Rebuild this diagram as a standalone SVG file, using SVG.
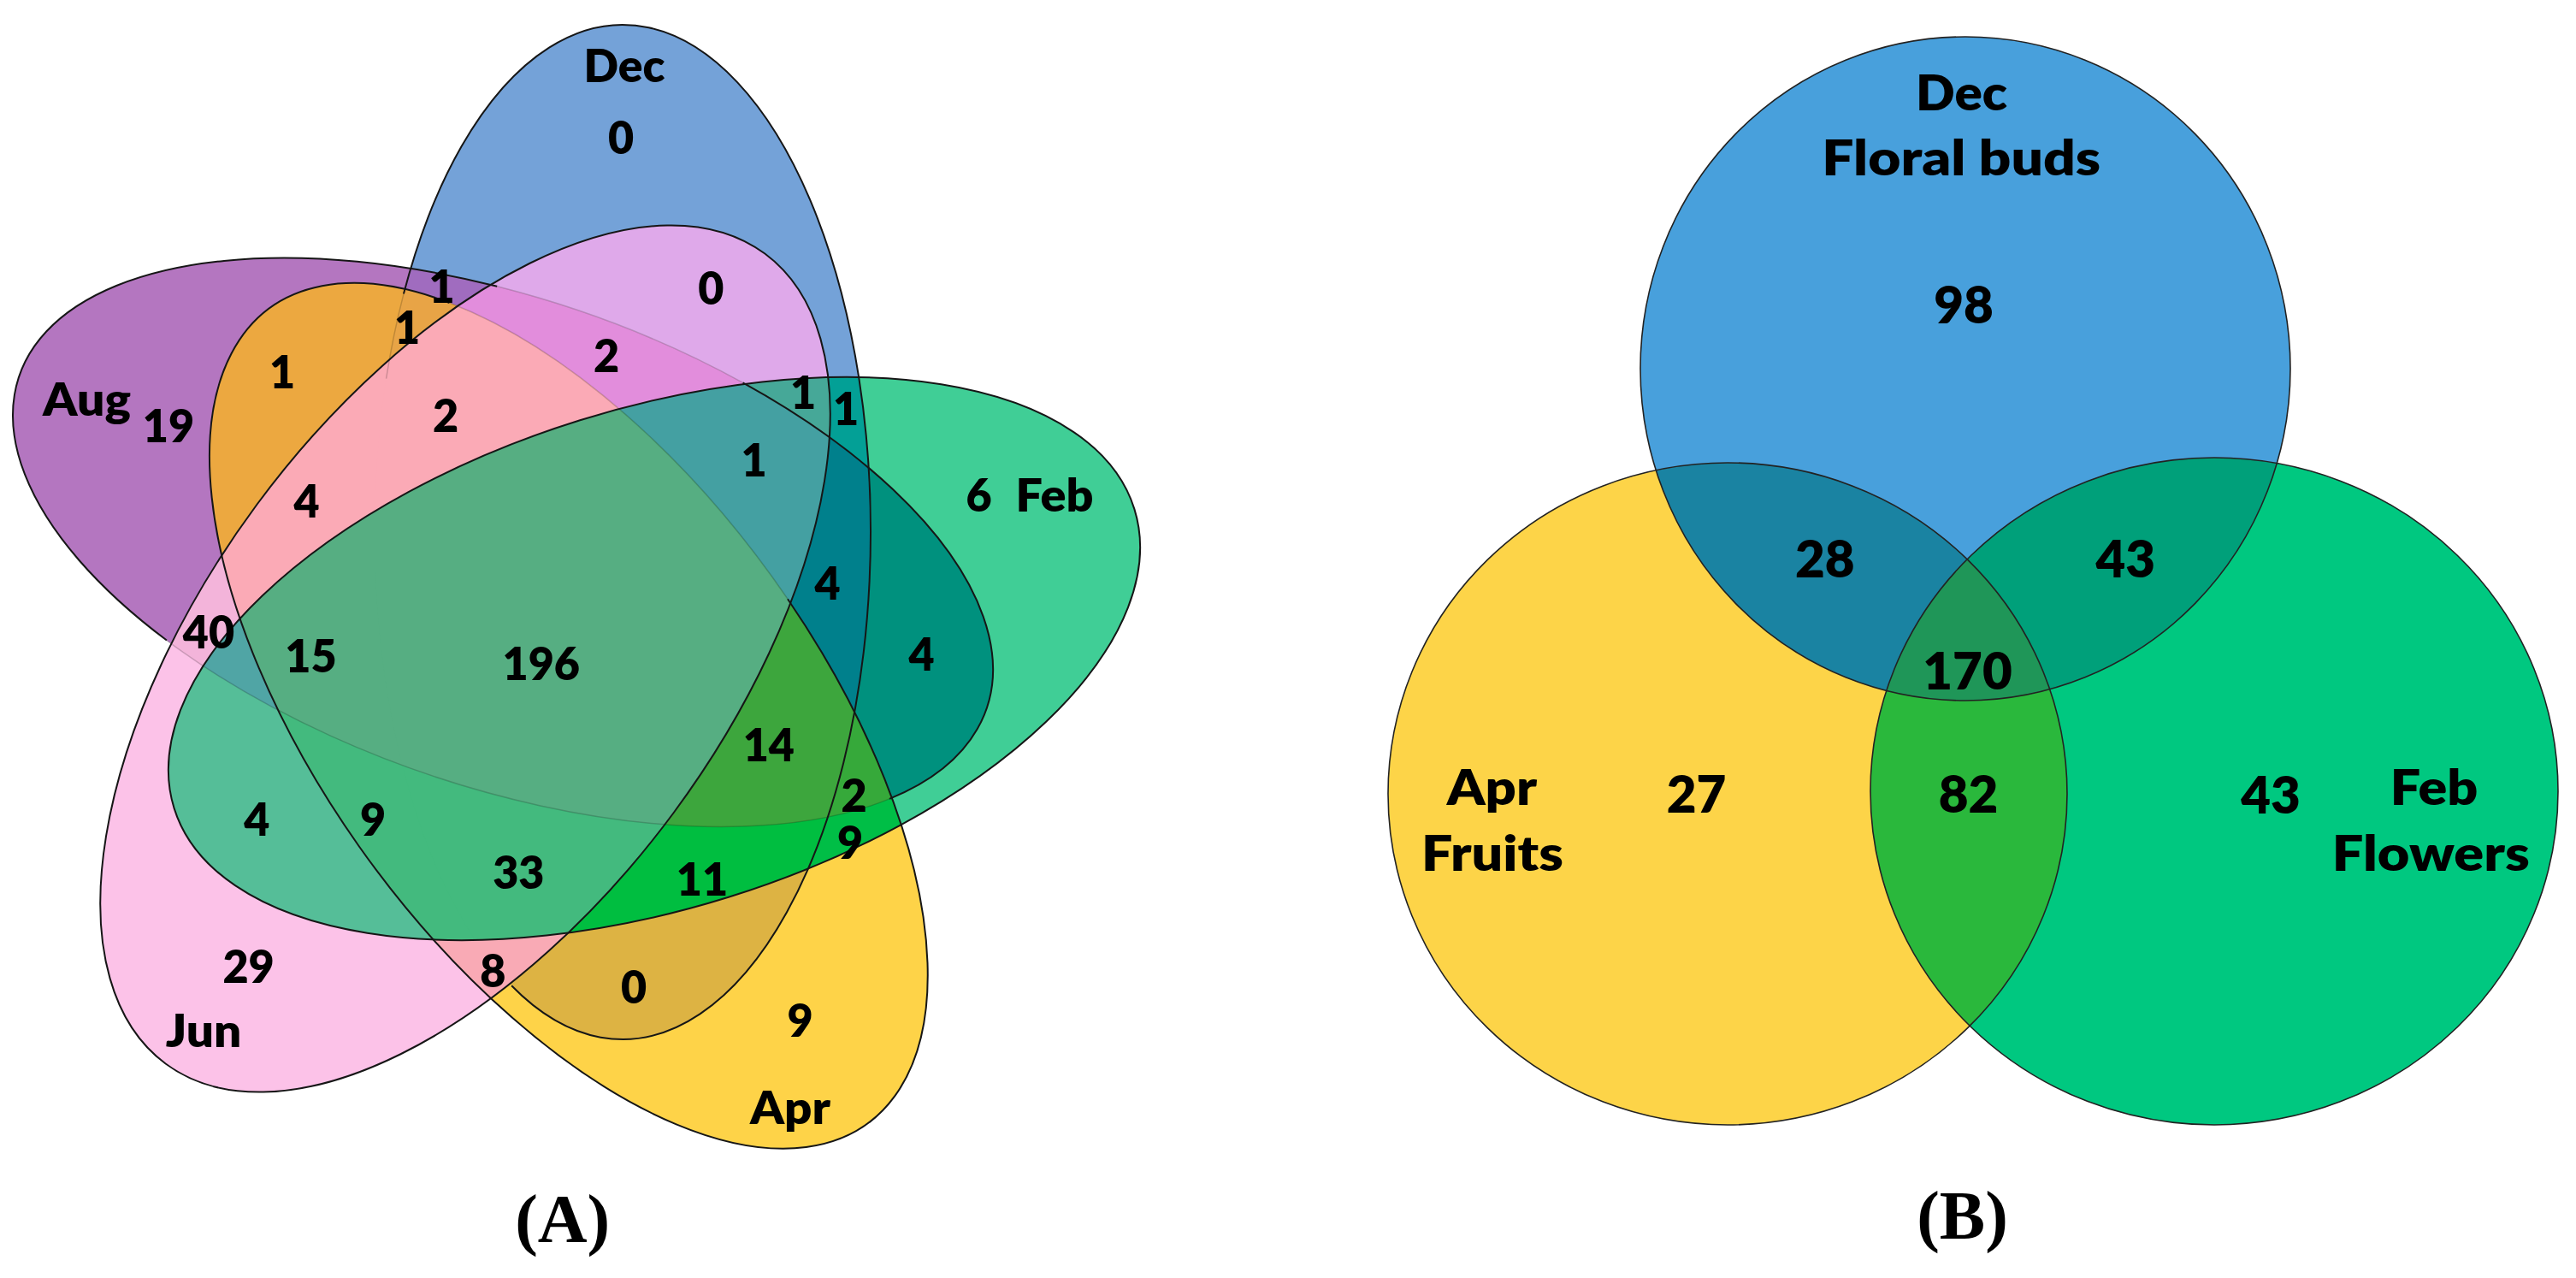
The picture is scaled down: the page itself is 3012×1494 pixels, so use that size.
<svg xmlns="http://www.w3.org/2000/svg" width="3012" height="1494" viewBox="0 0 3012 1494">
<style>
.t{font-family:Lato,"Open Sans","Liberation Sans",sans-serif;font-weight:800;fill:#000;text-anchor:middle}
.a{font-size:52px}
.bn{font-size:60px}
.bl{font-size:57px}
.cap{font-family:"Liberation Serif","Times New Roman",serif;font-weight:700;font-size:80px;text-anchor:middle;fill:#000}
.ol{fill:none;stroke:#161616;stroke-width:2}
.fa{fill:none;stroke:#000;stroke-opacity:0.18;stroke-width:1.5}
.ob{fill:none;stroke:#222;stroke-width:1.6}
</style>
<defs>
<ellipse id="eD" cx="728" cy="622" rx="290" ry="593"/>
<ellipse id="eF" cx="765" cy="770" rx="588" ry="292" transform="rotate(-17.3 765 770)"/>
<ellipse id="eP" cx="665" cy="837" rx="591" ry="288" transform="rotate(53.7 665 837)"/>
<ellipse id="eJ" cx="544" cy="770" rx="589" ry="303" transform="rotate(-53.5 544 770)"/>
<ellipse id="eA" cx="588" cy="634" rx="598" ry="285" transform="rotate(19 588 634)"/>
<clipPath id="cD"><use href="#eD"/></clipPath>
<clipPath id="cF"><use href="#eF"/></clipPath>
<clipPath id="cP"><use href="#eP"/></clipPath>
<clipPath id="cJ"><use href="#eJ"/></clipPath>
<clipPath id="cA"><use href="#eA"/></clipPath>
<ellipse id="bD" cx="2298" cy="431" rx="380" ry="388"/>
<ellipse id="bP" cx="2020" cy="928" rx="397" ry="387"/>
<ellipse id="bF" cx="2589" cy="925" rx="402" ry="390"/>
<clipPath id="cbD"><use href="#bD"/></clipPath>
<clipPath id="cbP"><use href="#bP"/></clipPath>
</defs>
<rect width="3012" height="1494" fill="#fff"/>

<g id="panelA-fills">
<g id="set-dec"><use href="#eD" fill="#74A2D8"/></g>
<g id="set-aug"><use href="#eA" fill="#B476C0"/></g>
<g id="set-apr"><use href="#eP" fill="#FED348"/></g>
<g id="set-jun"><use href="#eJ" fill="#FCC2E8"/></g>
<g id="set-feb"><use href="#eF" fill="#40CE96"/></g>
<g clip-path="url(#cD)"><use href="#eA" fill="#A06CBF"/></g>
<g clip-path="url(#cD)"><use href="#eP" fill="#DDB343"/></g>
<g clip-path="url(#cD)"><use href="#eJ" fill="#DFA9EA"/></g>
<g clip-path="url(#cD)"><use href="#eF" fill="#03A096"/></g>
<g clip-path="url(#cA)"><use href="#eP" fill="#ECA840"/></g>
<g clip-path="url(#cA)"><use href="#eJ" fill="#F3B4DA"/></g>
<g clip-path="url(#cA)"><use href="#eF" fill="#00917E"/></g>
<g clip-path="url(#cP)"><use href="#eJ" fill="#F9AAB5"/></g>
<g clip-path="url(#cP)"><use href="#eF" fill="#00BE46"/></g>
<g clip-path="url(#cJ)"><use href="#eF" fill="#55BE98"/></g>
<g clip-path="url(#cD)"><g clip-path="url(#cA)"><use href="#eJ" fill="#E28DDC"/></g></g>
<g clip-path="url(#cD)"><g clip-path="url(#cA)"><use href="#eP" fill="#E8A446"/></g></g>
<g clip-path="url(#cD)"><g clip-path="url(#cA)"><use href="#eF" fill="#00808C"/></g></g>
<g clip-path="url(#cD)"><g clip-path="url(#cP)"><use href="#eJ" fill="#F9AAB5"/></g></g>
<g clip-path="url(#cD)"><g clip-path="url(#cJ)"><use href="#eF" fill="#46A898"/></g></g>
<g clip-path="url(#cD)"><g clip-path="url(#cP)"><use href="#eF" fill="#00BE40"/></g></g>
<g clip-path="url(#cA)"><g clip-path="url(#cP)"><use href="#eJ" fill="#FBAAB6"/></g></g>
<g clip-path="url(#cA)"><g clip-path="url(#cJ)"><use href="#eF" fill="#50A5A5"/></g></g>
<g clip-path="url(#cA)"><g clip-path="url(#cP)"><use href="#eF" fill="#36A93A"/></g></g>
<g clip-path="url(#cP)"><g clip-path="url(#cJ)"><use href="#eF" fill="#43BA7E"/></g></g>
<g clip-path="url(#cD)"><g clip-path="url(#cA)"><g clip-path="url(#cP)"><use href="#eJ" fill="#FBAAB6"/></g></g></g>
<g clip-path="url(#cD)"><g clip-path="url(#cA)"><g clip-path="url(#cJ)"><use href="#eF" fill="#44A0A2"/></g></g></g>
<g clip-path="url(#cD)"><g clip-path="url(#cA)"><g clip-path="url(#cP)"><use href="#eF" fill="#3DA63D"/></g></g></g>
<g clip-path="url(#cD)"><g clip-path="url(#cP)"><g clip-path="url(#cJ)"><use href="#eF" fill="#43BA7E"/></g></g></g>
<g clip-path="url(#cA)"><g clip-path="url(#cP)"><g clip-path="url(#cJ)"><use href="#eF" fill="#56AE82"/></g></g></g>
<g clip-path="url(#cD)"><g clip-path="url(#cA)"><g clip-path="url(#cP)"><g clip-path="url(#cJ)"><use href="#eF" fill="#56AE82"/></g></g></g></g>
</g>

<g id="panelA-outlines">
<path class="fa" d="M581.2 334.81 A598 285 19 0 1 868.58 447.37"/>
<path class="fa" d="M1040 933.93 A598 285 19 0 1 194.9 748.54"/>
<path class="fa" d="M525.44 353.95 A591 288 53.7 0 1 921 700.23"/>
<path class="fa" d="M451.57 442.69 A290 593 0 0 1 471.95 343.6"/>
<use href="#eF" class="ol"/>
<use href="#eJ" class="ol"/>
<path class="ol" d="M194.9 748.54 A598 285 19 0 1 581.2 334.81"/>
<path class="ol" d="M868.58 447.37 A598 285 19 0 1 1040 933.93"/>
<path class="ol" d="M921 700.23 A591 288 53.7 1 1 525.44 353.95"/>
<path class="ol" d="M471.95 343.6 A290 593 0 1 1 598.15 1152.23"/>
</g>

<g id="panelA-labels" class="t a">
<text x="730" y="96" textLength="95" lengthAdjust="spacingAndGlyphs">Dec</text>
<text x="726" y="179.5">0</text>
<text x="101.5" y="485.5" textLength="103" lengthAdjust="spacingAndGlyphs">Aug</text>
<text x="197" y="516.6">19</text>
<text x="330" y="454.4">1</text>
<text x="516.6" y="354">1</text>
<text x="476" y="401.8">1</text>
<text x="831.3" y="356.3">0</text>
<text x="709" y="435">2</text>
<text x="521" y="504.6">2</text>
<text x="939" y="478.3">1</text>
<text x="989" y="497.4">1</text>
<text x="881.5" y="557">1</text>
<text x="1144.6" y="598">6</text>
<text x="1233" y="598" textLength="91" lengthAdjust="spacingAndGlyphs">Feb</text>
<text x="358.7" y="605">4</text>
<text x="967.6" y="700.7">4</text>
<text x="244" y="758">40</text>
<text x="363.5" y="786">15</text>
<text x="632.8" y="795.4">196</text>
<text x="1077.6" y="783.5">4</text>
<text x="898.8" y="889.7">14</text>
<text x="998.7" y="948.5">2</text>
<text x="300.4" y="977">4</text>
<text x="436.2" y="977">9</text>
<text x="994" y="1003.5">9</text>
<text x="606.3" y="1039.4">33</text>
<text x="821" y="1046.6">11</text>
<text x="290.6" y="1149.4">29</text>
<text x="576.4" y="1154.2">8</text>
<text x="741" y="1173">0</text>
<text x="935.6" y="1211.6">9</text>
<text x="238" y="1223.5" textLength="88.5" lengthAdjust="spacingAndGlyphs">Jun</text>
<text x="924" y="1314.4" textLength="94" lengthAdjust="spacingAndGlyphs">Apr</text>
</g>
<text class="cap" x="657.7" y="1452">(A)</text>

<g id="panelB-fills">
<g id="b-dec"><use href="#bD" fill="#48A0DC"/></g>
<g id="b-apr"><use href="#bP" fill="#FDD448"/></g>
<g id="b-feb"><use href="#bF" fill="#00C880"/></g>
<g clip-path="url(#cbD)"><use href="#bP" fill="#1A83A2"/></g>
<g clip-path="url(#cbD)"><use href="#bF" fill="#00A07A"/></g>
<g clip-path="url(#cbP)"><use href="#bF" fill="#2AB83C"/></g>
<g clip-path="url(#cbD)"><g clip-path="url(#cbP)"><use href="#bF" fill="#1F9658"/></g></g>
</g>
<g id="panelB-outlines">
<use href="#bD" class="ob"/>
<use href="#bP" class="ob"/>
<use href="#bF" class="ob"/>
</g>
<g id="panelB-labels" class="t">
<text class="bl" x="2293.6" y="128.6" textLength="107" lengthAdjust="spacingAndGlyphs">Dec</text>
<text class="bl" x="2293.2" y="204.9" textLength="326" lengthAdjust="spacingAndGlyphs">Floral buds</text>
<text class="bn" x="2296" y="377.5">98</text>
<text class="bn" x="2133.7" y="674.6">28</text>
<text class="bn" x="2485.2" y="674.6">43</text>
<text class="bn" x="2300.5" y="806">170</text>
<text class="bn" x="1983.6" y="950">27</text>
<text class="bn" x="2301.5" y="950">82</text>
<text class="bn" x="2655" y="951">43</text>
<text class="bl" x="1744.4" y="941.4" textLength="105.4" lengthAdjust="spacingAndGlyphs">Apr</text>
<text class="bl" x="1744.9" y="1017.6" textLength="166" lengthAdjust="spacingAndGlyphs">Fruits</text>
<text class="bl" x="2846" y="941.4" textLength="102.5" lengthAdjust="spacingAndGlyphs">Feb</text>
<text class="bl" x="2842.3" y="1017.6" textLength="231" lengthAdjust="spacingAndGlyphs">Flowers</text>
</g>
<text class="cap" x="2294.5" y="1448">(B)</text>
</svg>
